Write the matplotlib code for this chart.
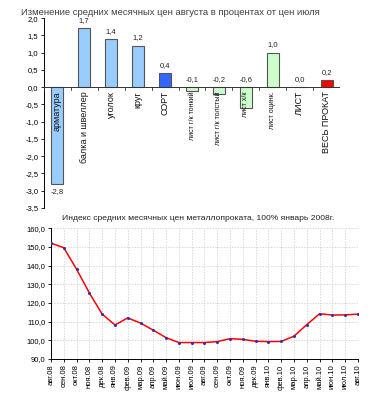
import matplotlib
matplotlib.use("Agg")
import matplotlib.pyplot as plt
import numpy as np

plt.rcParams['font.family'] = ['Liberation Sans', 'DejaVu Sans']

categories = ['арматура', 'балка и швеллер', 'уголок', 'круг', 'СОРТ',
              'лист г/к тонкий', 'лист г/к толстый', 'лист х/к', 'лист оцинк.',
              'ЛИСТ', 'ВЕСЬ ПРОКАТ']
changes = [-2.8, 1.7, 1.4, 1.2, 0.4, -0.1, -0.2, -0.6, 1.0, 0.0, 0.2]
bar_colors = ['#99CCFF'] * 4 + ['#3366FF'] + ['#CCFFCC'] * 4 + ['#000000', '#FF0000']
label_sizes = [6.5, 6.5, 6.5, 6.5, 6.5, 5, 5, 5, 5, 6.5, 6.5]

months = ['авг.08', 'сен.08', 'окт.08', 'ноя.08', 'дек.08', 'янв.09', 'фев.09',
          'мар.09', 'апр.09', 'май.09', 'июн.09', 'июл.09', 'авг.09', 'сен.09',
          'окт.09', 'ноя.09', 'дек.09', 'янв.10', 'фев.10', 'мар.10', 'апр.10',
          'май.10', 'июн.10', 'июл.10', 'авг.10']
index_vals = [152.0, 149.5, 138.0, 125.3, 114.0, 108.2, 112.0, 109.2, 105.4,
              101.4, 98.8, 98.8, 98.8, 99.3, 100.9, 100.5, 99.5, 99.3, 99.4,
              102.2, 108.4, 114.2, 113.5, 113.6, 114.0]

def fmt(v):
    return f"{v:.1f}".replace('.', ',')

fig = plt.figure(figsize=(3.78, 3.93), dpi=100)

# ---- top bar chart ----
ax1 = fig.add_axes([0.116, 0.471, 0.784, 0.483])
x = np.arange(len(categories))
ax1.bar(x, changes, width=0.44, color=bar_colors, edgecolor='#555555', linewidth=0.8, zorder=2)
ax1.set_xlim(-0.5, len(categories) - 0.5)
ax1.set_ylim(-3.5, 2.0)
yt = np.arange(-3.5, 2.01, 0.5)
ax1.set_yticks(yt)
ax1.set_yticklabels([fmt(v) for v in yt], fontsize=5.5)
ax1.tick_params(axis='y', length=2, width=0.6, pad=2)
ax1.set_xticks([])
for s in ['top', 'right', 'bottom']:
    ax1.spines[s].set_visible(False)
ax1.spines['left'].set_linewidth(0.7)
ax1.axhline(0, color='#333333', linewidth=0.7, zorder=3)
for b in np.arange(-0.5, len(categories) - 0.4, 1.0):
    ax1.plot([b, b], [0, -0.07], color='#333333', linewidth=0.6, zorder=3)
for i, (c, v) in enumerate(zip(categories, changes)):
    if v >= -1:
        ax1.text(i, max(v, 0) + 0.12, fmt(v), ha='center', va='bottom', fontsize=5.5, color='#222222')
    else:
        ax1.text(i, v - 0.12, fmt(v), ha='center', va='top', fontsize=5.5, color='#222222')
    ax1.text(i, -0.12, c, rotation=90, ha='center', va='top', fontsize=label_sizes[i],
             color='#111111', zorder=4)
fig.text(0.055, 0.968, 'Изменение средних месячных цен августа в процентах от цен июля',
         fontsize=6.8, color='#404040', ha='left', va='center')

# ---- bottom line chart ----
ax2 = fig.add_axes([0.135, 0.0865, 0.812, 0.333])
xm = np.arange(len(months))
ax2.plot(xm, index_vals, color='#FF0000', linewidth=1.1, zorder=3,
         marker='o', markersize=1.2, markerfacecolor='#3333AA', markeredgecolor='#3333AA')
ax2.set_xlim(0, len(months) - 1)
ax2.set_ylim(90, 160)
ax2.set_xticks(xm)
ax2.set_xticklabels(months, rotation=90, fontsize=5.5)
yt2 = np.arange(90, 161, 10)
ax2.set_yticks(yt2)
ax2.set_yticklabels([fmt(v) for v in yt2], fontsize=5.5)
ax2.tick_params(length=2, width=0.6, pad=2)
ax2.grid(True, color='#C8C8C8', linestyle=(0, (2, 2)), linewidth=0.5)
for s in ['top', 'right']:
    ax2.spines[s].set_visible(False)
ax2.spines['left'].set_linewidth(0.7)
ax2.spines['bottom'].set_linewidth(0.7)
ax2.set_title('Индекс средних месячных цен металлопроката, 100% январь 2008г.',
              fontsize=6.1, pad=6, color='#222222', x=0.48)

fig.savefig('out.png', dpi=100)
